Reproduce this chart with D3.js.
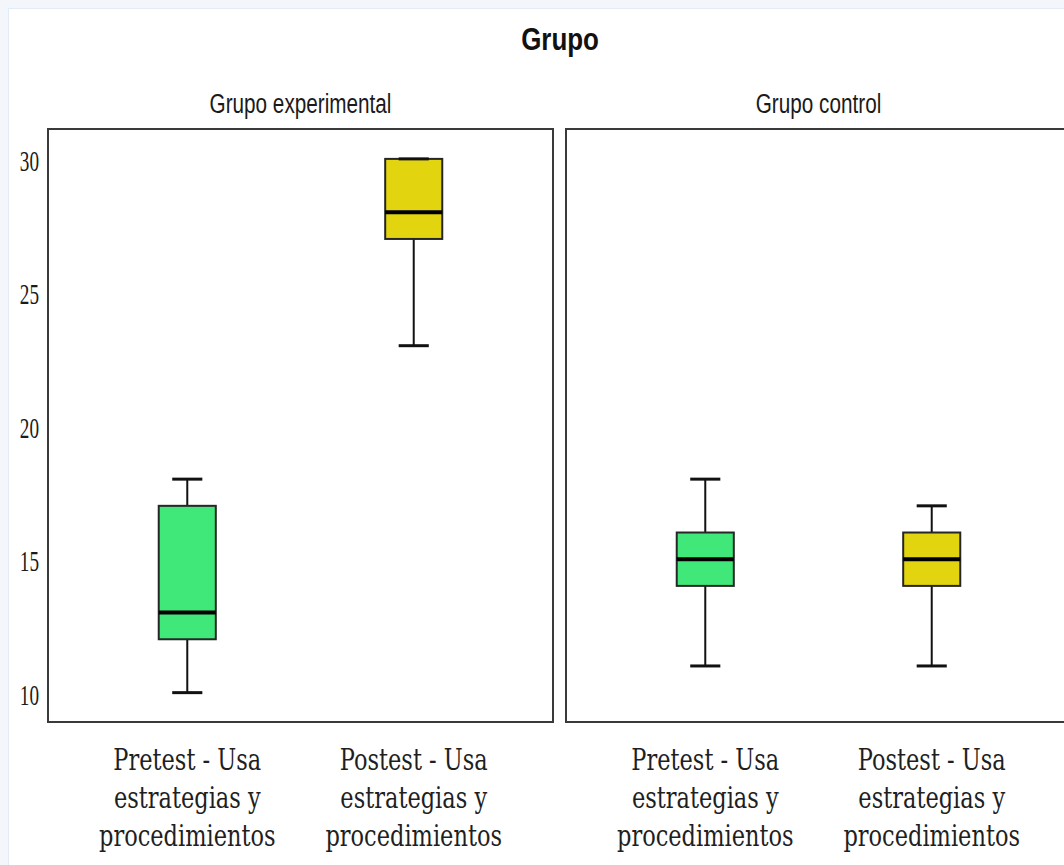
<!DOCTYPE html>
<html>
<head>
<meta charset="utf-8">
<script src="https://cdn.jsdelivr.net/npm/d3@7"></script>
<style>
  html, body { margin: 0; padding: 0; background: #f3f7fc; }
  svg { display: block; }
</style>
</head>
<body>
<svg id="chart" width="1064" height="865"></svg>
<script>
// Box-plot summaries, one entry per facet × measure (experimental pre, post, control pre, post)
const facets = ["Grupo experimental", "Grupo control"];
const measures = ["Pretest", "Postest"];
const measureLabelLines = [
  ["Pretest - Usa", "estrategias y", "procedimientos"],
  ["Postest - Usa", "estrategias y", "procedimientos"]
];
const whiskerLow  = [10, 23, 11, 11];
const quartile1   = [12, 27, 14, 14];
const medianValue = [13, 28, 15, 15];
const quartile3   = [17, 30, 16, 16];
const whiskerHigh = [18, 30, 18, 17];
const yTicks = [10, 15, 20, 25, 30];
const boxColors = ["#40e87a", "#e2d40f"];

const svg = d3.select("#chart");
const W = 1064, H = 865;

// page frame
svg.append("rect").attr("x", 8.5).attr("y", 8.5).attr("width", W).attr("height", H)
  .attr("fill", "#ffffff").attr("stroke", "#e2ebf6").attr("stroke-width", 1);

const panelTop = 129, panelBottom = 722, panelW = 505;
const panelX = d3.scaleOrdinal().domain(facets).range([48, 566]);

const y = d3.scaleLinear().domain([8.9, 31.12]).range([panelBottom, panelTop]);
const x = d3.scalePoint().domain(measures).range([0, panelW]).padding(0.615);
const step = x.step();
const boxW = step * 0.252;
const capW = step * 0.133;
const condense = 0.64;

// title
svg.append("text")
  .attr("transform", `translate(560,50) scale(0.81,1)`)
  .attr("text-anchor", "middle")
  .attr("font-family", "Liberation Sans, Arial, sans-serif")
  .attr("font-weight", "bold")
  .attr("font-size", 32)
  .attr("fill", "#111")
  .text("Grupo");

facets.forEach((facet, fi) => {
  const g = svg.append("g").attr("transform", `translate(${panelX(facet)},0)`);

  // facet header
  g.append("text")
    .attr("transform", `translate(${panelW / 2},113) scale(0.74,1)`)
    .attr("text-anchor", "middle")
    .attr("font-family", "Liberation Sans, Arial, sans-serif")
    .attr("font-size", 28)
    .attr("fill", "#1a1a1a")
    .text(facet);

  // panel frame
  g.append("rect")
    .attr("x", 0).attr("y", panelTop)
    .attr("width", panelW).attr("height", panelBottom - panelTop)
    .attr("fill", "#ffffff")
    .attr("stroke", "#3a3a3a").attr("stroke-width", 2);

  measures.forEach((m, mi) => {
    const k = fi * measures.length + mi;
    const cx = x(m);
    const box = g.append("g");

    // whisker stems
    box.append("line")
      .attr("x1", cx).attr("x2", cx)
      .attr("y1", y(quartile3[k])).attr("y2", y(whiskerHigh[k]))
      .attr("stroke", "#111").attr("stroke-width", 2);
    box.append("line")
      .attr("x1", cx).attr("x2", cx)
      .attr("y1", y(quartile1[k])).attr("y2", y(whiskerLow[k]))
      .attr("stroke", "#111").attr("stroke-width", 2);

    // interquartile box
    box.append("rect")
      .attr("x", cx - boxW / 2)
      .attr("y", y(quartile3[k]))
      .attr("width", boxW)
      .attr("height", y(quartile1[k]) - y(quartile3[k]))
      .attr("fill", boxColors[mi])
      .attr("stroke", "#262626").attr("stroke-width", 2);

    // whisker caps
    [whiskerLow[k], whiskerHigh[k]].forEach(v => {
      box.append("line")
        .attr("x1", cx - capW / 2).attr("x2", cx + capW / 2)
        .attr("y1", y(v)).attr("y2", y(v))
        .attr("stroke", "#111").attr("stroke-width", 3);
    });

    // median
    box.append("line")
      .attr("x1", cx - boxW / 2).attr("x2", cx + boxW / 2)
      .attr("y1", y(medianValue[k])).attr("y2", y(medianValue[k]))
      .attr("stroke", "#000").attr("stroke-width", 4);

    // category label
    const lbl = g.append("text")
      .attr("transform", `translate(${cx},770) scale(0.75,1)`)
      .attr("text-anchor", "middle")
      .attr("font-family", "DejaVu Serif, serif")
      .attr("font-size", 30)
      .attr("fill", "#1f1f1f");
    measureLabelLines[mi].forEach((line, li) => {
      lbl.append("tspan").attr("x", 0).attr("dy", li === 0 ? 0 : 38).text(line);
    });
  });

  // value axis on the first panel only
  if (fi === 0) {
    const axis = d3.axisLeft(y).tickValues(yTicks).tickSize(0).tickPadding(0);
    const ag = g.append("g").attr("transform", "translate(-9,0)").call(axis);
    ag.select(".domain").remove();
    ag.selectAll("text")
      .attr("font-family", "Liberation Serif, serif")
      .attr("font-size", 30)
      .attr("fill", "#1a1a1a")
      .attr("dy", "0.38em")
      .attr("x", 0)
      .attr("transform", `scale(${condense},1)`);
  }
});
</script>
</body>
</html>
